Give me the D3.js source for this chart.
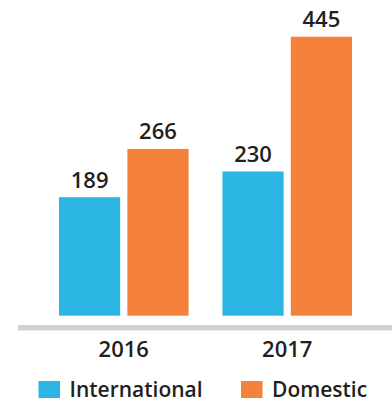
<!DOCTYPE html>
<html>
<head>
<meta charset="utf-8">
<script src="https://cdn.jsdelivr.net/npm/d3@7/dist/d3.min.js"></script>
<style>
  html, body { margin: 0; padding: 0; background: #fff; }
  svg { display: block; font-family: "Open Sans", sans-serif; }
</style>
</head>
<body>
<svg id="chart" width="392" height="401"></svg>
<script>
// Passenger totals by year
const years = ["2016", "2017"];
const seriesNames = ["International", "Domestic"];
const international = [189, 230];
const domestic = [266, 445];
const seriesColors = ["#2bb6e4", "#f5823b"];

const svg = d3.select("#chart");
const baseY = 315.7;
const topY = 36.7;

const x0 = d3.scaleBand().domain(years).range([59, 352]).paddingInner(0.2073).paddingOuter(0);
const x1 = d3.scaleBand().domain(seriesNames).range([0, x0.bandwidth()]).paddingInner(0.105).paddingOuter(0);
const y = d3.scaleLinear().domain([0, 445]).range([baseY, topY]);
const color = d3.scaleOrdinal().domain(seriesNames).range(seriesColors);

const rows = years.map((yr, i) => ({
  year: yr,
  values: [
    { name: seriesNames[0], value: international[i] },
    { name: seriesNames[1], value: domestic[i] }
  ]
}));

const groups = svg.selectAll("g.year").data(rows).join("g")
  .attr("class", "year")
  .attr("transform", d => `translate(${x0(d.year)},0)`);

groups.selectAll("rect").data(d => d.values).join("rect")
  .attr("x", d => x1(d.name))
  .attr("y", d => y(d.value))
  .attr("width", x1.bandwidth())
  .attr("height", d => y(0) - y(d.value))
  .attr("fill", d => color(d.name));

groups.selectAll("text.val").data(d => d.values).join("text")
  .attr("class", "val")
  .attr("x", d => x1(d.name) + x1.bandwidth() / 2)
  .attr("y", d => y(d.value) - 9.5)
  .attr("text-anchor", "middle")
  .attr("font-size", 22)
  .attr("font-weight", 600)
  .attr("fill", "#231f20")
  .text(d => d.value);

// baseline rule
svg.append("rect")
  .attr("x", 18).attr("y", 325)
  .attr("width", 392 - 18).attr("height", 5.5)
  .attr("fill", "#d1d2d3");

// year axis
const xAxis = d3.axisBottom(x0).tickSize(0).tickPadding(0);
const axisG = svg.append("g").attr("transform", "translate(0,357.3)").call(xAxis);
axisG.select(".domain").remove();
axisG.selectAll("text")
  .attr("dy", 0)
  .attr("font-family", "Open Sans, sans-serif")
  .attr("font-size", 22)
  .attr("font-weight", 600)
  .attr("fill", "#231f20");

// legend
const legendX = [38.5, 241];
const legend = svg.selectAll("g.legend").data(seriesNames).join("g")
  .attr("class", "legend")
  .attr("transform", (d, i) => `translate(${legendX[i]},381)`);
legend.append("rect")
  .attr("width", 21.5).attr("height", 17)
  .attr("fill", d => color(d));
legend.append("text")
  .attr("x", 31).attr("y", 15.8)
  .attr("font-size", 21)
  .attr("font-weight", 600)
  .attr("fill", "#231f20")
  .text(d => d);
</script>
</body>
</html>
